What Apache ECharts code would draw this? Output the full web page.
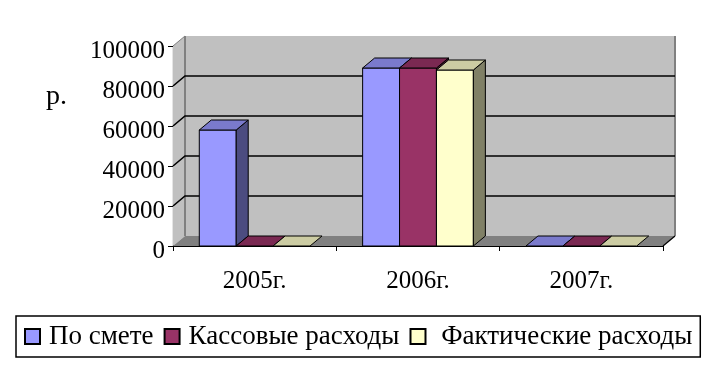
<!DOCTYPE html>
<html><head><meta charset="utf-8">
<script src="https://cdn.jsdelivr.net/npm/echarts/dist/echarts.min.js"></script>
<style>html,body{margin:0;padding:0;background:#fff}#c{width:724px;height:372px}</style>
</head><body><div id="c"></div>
<script>
// ---- data ----
const categories = ['2005г.', '2006г.', '2007г.'];
const seriesNames = ['По смете', 'Кассовые расходы', 'Фактические расходы'];
const poSmete = [58000, 89000, 0];
const kassovye = [0, 89000, 0];
const fakticheskie = [0, 88000, 0];
const yMin = 0, yMax = 100000, yStep = 20000;
const unitLabel = 'р.';

// ---- style ----
const FONT = 'Liberation Serif';
const DX = 12, DY = 10;          // 3D depth offset (px)
const BAR_FRAC = 0.226;          // bar width as fraction of category band
const faceColors = [
  {front: '#9999FF', top: '#7A7ACC', side: '#4C4C80'},
  {front: '#993366', top: '#7A2952', side: '#4C1933'},
  {front: '#FFFFCC', top: '#CCCCA3', side: '#808066'}
];
const seriesValues = [poSmete, kassovye, fakticheskie];

function wallRender(params, api) {
  const cs = params.coordSys;
  const L = cs.x, R = cs.x + cs.width;
  const yb = api.coord([0, yMin])[1];
  const yt = api.coord([0, yMax])[1];
  const children = [];
  children.push({type: 'polygon', shape: {points: [[L+DX, yt-DY],[R+DX, yt-DY],[R+DX, yb-DY],[L+DX, yb-DY]]},
    style: {fill: '#C0C0C0', stroke: null}});
  children.push({type: 'polygon', shape: {points: [[L, yt],[L+DX, yt-DY],[L+DX, yb-DY],[L, yb]]},
    style: {fill: '#C0C0C0', stroke: null}});
  children.push({type: 'polygon', shape: {points: [[L, yb],[R, yb],[R+DX, yb-DY],[L+DX, yb-DY]]},
    style: {fill: '#808080', stroke: null}});
  children.push({type: 'polyline', shape: {points: [[L+DX, yb-DY],[L+DX, yt-DY]]}, style: {stroke: '#808080', lineWidth: 2, fill: null}});
  children.push({type: 'polyline', shape: {points: [[R+DX, yb-DY],[R+DX, yt-DY]]}, style: {stroke: '#808080', lineWidth: 2, fill: null}});
  children.push({type: 'polyline', shape: {points: [[L, yt],[L+DX, yt-DY]]}, style: {stroke: '#808080', lineWidth: 1, fill: null}});
  for (let v = yMin + yStep; v < yMax; v += yStep) {
    const y = api.coord([0, v])[1];
    children.push({type: 'polyline', shape: {points: [[L, y],[L+DX, y-DY],[R+DX, y-DY]]},
      style: {stroke: '#000', lineWidth: 1.6, fill: null}});
  }
  children.push({type: 'polyline', shape: {points: [[R, yb],[R+DX, yb-DY]]}, style: {stroke: '#000', lineWidth: 1.2, fill: null}});
  return {type: 'group', children: children};
}

function makeBarRender(si) {
  const c = faceColors[si];
  return function (params, api) {
    const cat = api.value(0), val = api.value(1);
    const base = api.coord([cat, yMin]);
    const topP = api.coord([cat, val]);
    const band = api.size([1, 0])[0];
    const w = band * BAR_FRAC;
    const x0 = base[0] + (si - 1.5) * w, x1 = x0 + w;
    const yb = base[1], yt = topP[1];
    const st = {stroke: '#000', lineWidth: 1, lineJoin: 'miter'};
    const children = [];
    if (yb - yt > 0.5) {
      children.push({type: 'polygon', shape: {points: [[x0, yt],[x1, yt],[x1, yb],[x0, yb]]}, style: Object.assign({fill: c.front}, st)});
      children.push({type: 'polygon', shape: {points: [[x1, yt],[x1+DX, yt-DY],[x1+DX, yb-DY],[x1, yb]]}, style: Object.assign({fill: c.side}, st)});
    }
    children.push({type: 'polygon', shape: {points: [[x0, yt],[x1, yt],[x1+DX, yt-DY],[x0+DX, yt-DY]]}, style: Object.assign({fill: c.top}, st)});
    return {type: 'group', children: children};
  };
}

const series = [{
  type: 'custom', name: 'wall', silent: true, z: 1,
  renderItem: wallRender, data: [[0, 0]], encode: {x: 0, y: 1}
}];
seriesNames.forEach(function (name, si) {
  series.push({
    type: 'custom', name: name, z: 2 + si,
    itemStyle: {color: faceColors[si].front, borderColor: '#000', borderWidth: 1},
    renderItem: makeBarRender(si),
    encode: {x: 0, y: 1},
    data: seriesValues[si].map(function (v, i) { return [i, v]; })
  });
});

const chart = echarts.init(document.getElementById('c'), null, {renderer: 'canvas'});
chart.setOption({
  animation: false,
  backgroundColor: '#fff',
  title: {text: unitLabel, left: 41, top: 78, textStyle: {fontFamily: FONT, fontSize: 28, fontWeight: 'normal', color: '#000'}},
  grid: {left: 173, right: 61, top: 46, bottom: 126},
  xAxis: {
    type: 'category', data: categories, boundaryGap: true,
    axisLine: {lineStyle: {color: '#000', width: 1.2}},
    axisTick: {show: true, length: 5, lineStyle: {color: '#000'}},
    axisLabel: {fontFamily: FONT, fontSize: 25, color: '#000', margin: 23},
    splitLine: {show: false}
  },
  yAxis: {
    type: 'value', min: yMin, max: yMax, interval: yStep,
    axisLine: {show: true, lineStyle: {color: '#000', width: 1.2}},
    axisTick: {show: true, length: 5, lineStyle: {color: '#000'}},
    axisLabel: {fontFamily: FONT, fontSize: 25, color: '#000', margin: 8,
      verticalAlign: 'top', lineHeight: 11,
      formatter: function (v) { return String(v); }},
    splitLine: {show: false}
  },
  legend: {
    data: seriesNames, left: 16, top: 316,
    orient: 'horizontal',
    borderColor: '#000', borderWidth: 1.5, padding: [7, 8],
    itemWidth: 15, itemHeight: 15, itemGap: 10,
    icon: 'rect',
    formatter: function (name) { return name === seriesNames[2] ? '\u00a0' + name : name; },
    textStyle: {fontFamily: FONT, fontSize: 27, lineHeight: 27, color: '#000', padding: [0, 0, 0, 4]}
  },
  series: series
});
</script>
</body></html>
